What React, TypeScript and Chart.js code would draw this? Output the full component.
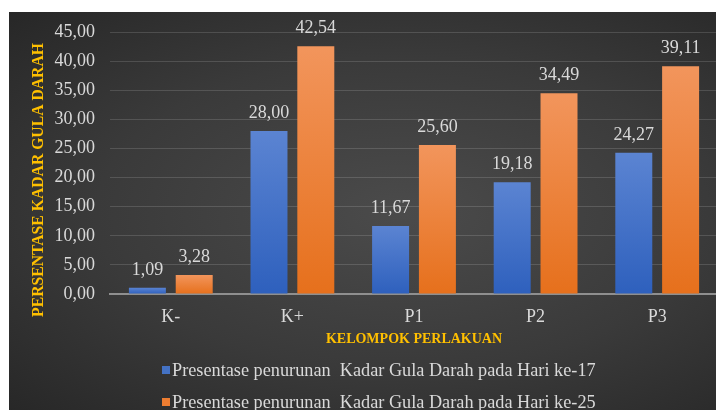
import React, { useEffect, useRef } from 'react';
import { Chart, registerables } from 'chart.js';

Chart.register(...registerables);

const categories = ['K-', 'K+', 'P1', 'P2', 'P3'];
const day17 = [1.09, 28.0, 11.67, 19.18, 24.27];
const day25 = [3.28, 42.54, 25.6, 34.49, 39.11];
const seriesLabels = [
  'Presentase penurunan  Kadar Gula Darah pada Hari ke-17',
  'Presentase penurunan  Kadar Gula Darah pada Hari ke-25',
];
const yMin = 0;
const yMax = 45;
const yStep = 5;
const yTitle = 'PERSENTASE KADAR GULA DARAH';
const xTitle = 'KELOMPOK PERLAKUAN';

const FONT = '"Liberation Serif", "DejaVu Serif", serif';
const TEXT = '#d9d9d9';
const GOLD = '#FFC000';

const fmt = (v: number) => v.toFixed(2).replace('.', ',');

const blueGrad = ['#5b84d2', '#2e60bd'];
const orangeGrad = ['#f2955c', '#e6701c'];
const solid = ['#4472C4', '#ED7D31'];

function barFill(stops: string[], fallback: string) {
  return (ctx: any) => {
    const chart = ctx.chart;
    if (ctx.type !== 'data' || !chart.chartArea) return fallback;
    const y = chart.scales.y;
    const top = y.getPixelForValue(ctx.raw);
    const bottom = y.getPixelForValue(0);
    if (!isFinite(top) || !isFinite(bottom) || top === bottom) return fallback;
    const g = chart.ctx.createLinearGradient(0, top, 0, bottom);
    g.addColorStop(0, stops[0]);
    g.addColorStop(1, stops[1]);
    return g;
  };
}

const decorPlugin = {
  id: 'decor',
  afterDatasetsDraw(chart: any) {
    const c = chart.ctx;
    c.save();
    c.font = `18px ${FONT}`;
    c.fillStyle = TEXT;
    c.textAlign = 'center';
    c.textBaseline = 'alphabetic';
    chart.data.datasets.forEach((ds: any, i: number) => {
      const meta = chart.getDatasetMeta(i);
      meta.data.forEach((el: any, j: number) => {
        c.fillText(fmt(ds.data[j]), el.x, el.y - 13);
      });
    });
    c.restore();
  },
  afterDraw(chart: any) {
    const c = chart.ctx;
    c.save();
    c.font = `bold 15.7px ${FONT}`;
    c.fillStyle = GOLD;
    c.textAlign = 'center';
    c.textBaseline = 'middle';
    c.translate(30, 168);
    c.rotate(-Math.PI / 2);
    c.fillText(yTitle, 0, 0);
    c.restore();

    c.save();
    c.font = `18.25px ${FONT}`;
    c.textBaseline = 'middle';
    c.textAlign = 'left';
    const rows = [359, 391];
    chart.data.datasets.forEach((ds: any, i: number) => {
      const y = rows[i];
      c.fillStyle = solid[i];
      c.fillRect(153, y - 5, 8, 8);
      c.fillStyle = TEXT;
      c.fillText(ds.label, 163, y);
    });
    c.restore();
  },
};

export default function App() {
  const ref = useRef<HTMLCanvasElement | null>(null);

  useEffect(() => {
    let chart: any = null;
    let cancelled = false;
    const build = () => {
      if (cancelled || !ref.current) return;
      chart = new Chart(ref.current, {
        type: 'bar',
        data: {
          labels: categories,
          datasets: [
            {
              label: seriesLabels[0],
              data: day17,
              backgroundColor: barFill(blueGrad, solid[0]),
              borderWidth: 0,
              categoryPercentage: 0.77,
              barPercentage: 0.79,
            },
            {
              label: seriesLabels[1],
              data: day25,
              backgroundColor: barFill(orangeGrad, solid[1]),
              borderWidth: 0,
              categoryPercentage: 0.77,
              barPercentage: 0.79,
            },
          ],
        },
        options: {
          animation: false,
          responsive: false,
          maintainAspectRatio: false,
          layout: { autoPadding: false, padding: { top: 20, right: 6, bottom: 57, left: 0 } },
          plugins: {
            legend: { display: false },
            tooltip: { enabled: false },
            title: { display: false },
          },
          scales: {
            x: {
              grid: { display: false, drawTicks: false },
              border: { display: true, color: '#8f8f8f', width: 2 },
              ticks: { color: TEXT, font: { family: FONT, size: 18 }, padding: 12 },
              title: {
                display: true,
                text: xTitle,
                color: GOLD,
                font: { family: FONT, size: 14, weight: 'bold' },
                padding: { top: 0, bottom: 9 },
              },
              afterFit: (s: any) => {
                s.height = 63;
                s.paddingLeft = 0;
                s.paddingRight = 0;
              },
            },
            y: {
              min: yMin,
              max: yMax,
              grid: {
                drawTicks: false,
                color: (ctx: any) => (ctx.tick && ctx.tick.value === 0 ? 'rgba(0,0,0,0)' : 'rgba(255,255,255,0.14)'),
                lineWidth: 1,
              },
              border: { display: false },
              ticks: {
                stepSize: yStep,
                color: TEXT,
                font: { family: FONT, size: 18 },
                padding: 15,
                callback: (v: any) => fmt(Number(v)),
              },
              afterFit: (s: any) => {
                s.width = 101;
                s.paddingTop = 0;
                s.paddingBottom = 0;
              },
            },
          },
        },
        plugins: [decorPlugin],
      });
    };
    const fonts: any = (document as any).fonts;
    if (fonts && fonts.load) {
      Promise.all([
        fonts.load('18px "Liberation Serif"'),
        fonts.load('bold 15px "Liberation Serif"'),
      ])
        .catch(() => null)
        .then(build);
    } else {
      build();
    }
    return () => {
      cancelled = true;
      if (chart) chart.destroy();
    };
  }, []);

  return (
    <div
      style={{
        position: 'relative',
        left: 1,
        top: 4,
        width: 715,
        height: 402,
        background: 'radial-gradient(ellipse farthest-corner at 55% 50%, #4b4b4b 0%, #3a3a3a 55%, #272727 100%)',
      }}
    >
      <span style={{ position: 'absolute', visibility: 'hidden', fontFamily: FONT, fontSize: 18 }}>
        Aa <b>Bb</b>
      </span>
      <canvas ref={ref} width={715} height={402} style={{ display: 'block' }} />
    </div>
  );
}
